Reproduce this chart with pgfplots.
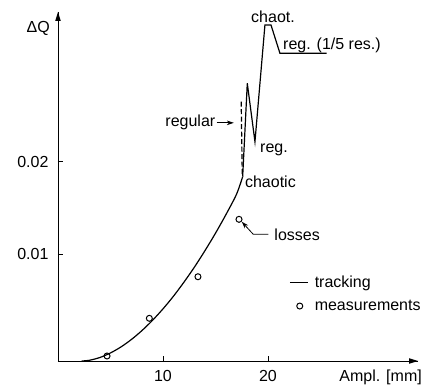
\documentclass[border=0pt]{standalone}
\usepackage{pgfplots}
\pgfplotsset{compat=1.18}
\usepackage{fontspec}
\setmainfont{Liberation Sans}
\usetikzlibrary{arrows.meta,calc}
\pgfplotsset{
  lineleg/.style={legend image code/.code={\path[draw=none] (0bp,0bp) -- (23bp,0bp);\draw[##1] (0bp,0bp) -- (18bp,0bp);}},
  markleg/.style={legend image code/.code={\path[draw=none] (0bp,0bp) -- (23bp,0bp);\draw[##1] plot coordinates {(10bp,0bp)};}},
}

\begin{document}
\fontsize{16bp}{19bp}\selectfont
\begin{tikzpicture}
\useasboundingbox (-58bp,-28bp) rectangle (369bp,361bp);
\begin{axis}[
  at={(0bp,0bp)}, anchor=south west,
  scale only axis, width=360bp, height=349bp,
  xmin=0, xmax=34.29, ymin=-0.00152, ymax=0.03617,
  axis lines=left, clip=false,
  axis line style={line width=1pt, -},
  tick align=inside, major tick length=5bp,
  tick style={line width=0.8pt, black},
  scaled y ticks=false,
  xtick={10,20}, xticklabels={10,20},
  ytick={0.01,0.02}, yticklabels={0.01,0.02},
  tick label style={font=\fontsize{16bp}{19bp}\selectfont},
  xticklabel style={yshift=-4bp},
  yticklabel style={xshift=-4bp},
  every axis plot/.append style={line width=1.2pt},
  legend style={draw=none, fill=none, at={(axis cs:22.0,0.00571)}, anchor=west,
    font=\fontsize{16bp}{19bp}\selectfont, row sep=6bp, inner sep=0pt},
  legend cell align=left,
]
% tracking curve
\addplot[black, smooth, lineleg]
  coordinates {(2.26,-0.00152) (3,-0.00144) (4,-0.00114) (5,-0.00065) (6,0.0) (7,0.00081)
   (8,0.00177) (9,0.00287) (10,0.00411) (11,0.00548) (12,0.0070) (13,0.00863)
   (14,0.0104) (15,0.01228) (16,0.0143) (17,0.01648) (17.59,0.01838)};
\addlegendentry{tracking}
% measurements
\addplot[only marks, mark=o, mark size=3bp, mark options={line width=1pt, fill=white}, markleg]
  coordinates {(4.67,-0.00098) (8.70,0.00309) (13.33,0.00758) (17.24,0.01378)};
\addlegendentry{measurements}
% spike region
\addplot[black, forget plot] coordinates {(17.59,0.01838) (18.03,0.02847) (18.76,0.02216)
  (19.71,0.03476) (20.29,0.03476) (21.14,0.03171) (25.59,0.03171)};
\addplot[black, forget plot, dash pattern=on 5bp off 2.5bp] coordinates {(17.45,0.0265) (17.55,0.0185)};
\coordinate (xe) at (rel axis cs:1,0);
\coordinate (ye) at (rel axis cs:0,1);
\coordinate (ra) at (axis cs:15.1,0.0242);
\coordinate (rb) at (axis cs:16.75,0.0242);
\coordinate (la) at (axis cs:20.03,0.01216);
\coordinate (lb) at (axis cs:18.6,0.01216);
\coordinate (lc) at (axis cs:17.5,0.01352);
% labels
\node[anchor=east, inner sep=0pt] at (axis cs:-0.76,0.03444) {ΔQ};
\node[anchor=east, inner sep=0pt] at (axis cs:34.67,-0.00325) {Ampl. [mm]};
\node[anchor=east, inner sep=0pt] at (axis cs:15.0,0.0242) {regular};
\node[anchor=west, inner sep=0pt] at (axis cs:19.24,0.0213) {reg.};
\node[anchor=west, inner sep=0pt] at (axis cs:17.8,0.0178) {chaotic};
\node[anchor=center, inner sep=0pt] at (axis cs:20.48,0.0357) {chaot.};
\node[anchor=west, inner sep=0pt] at (axis cs:21.43,0.0326) {reg. (1/5 res.)};
\node[anchor=west, inner sep=0pt] at (axis cs:20.6,0.01216) {losses};
\end{axis}
% axis arrow heads
\fill ([xshift=-9bp,yshift=2.8bp]xe) -- (xe) -- ([xshift=-9bp,yshift=-2.8bp]xe) -- cycle;
\fill ([yshift=-9bp,xshift=2.8bp]ye) -- (ye) -- ([yshift=-9bp,xshift=-2.8bp]ye) -- cycle;
% annotation arrows
\draw[line width=0.8pt] (ra) -- ([xshift=-5bp]rb);
\fill ([xshift=-7bp,yshift=2.3bp]rb) -- (rb) -- ([xshift=-7bp,yshift=-2.3bp]rb) -- ([xshift=-5bp]rb) -- cycle;
\draw[line width=0.8pt] (la) -- (lb) -- ($(lc)!5bp!(lb)$);
\fill[shift={(lc)}, rotate=-47] (0,0) -- (7bp,2.3bp) -- (5bp,0) -- (7bp,-2.3bp) -- cycle;
\end{tikzpicture}
\end{document}
